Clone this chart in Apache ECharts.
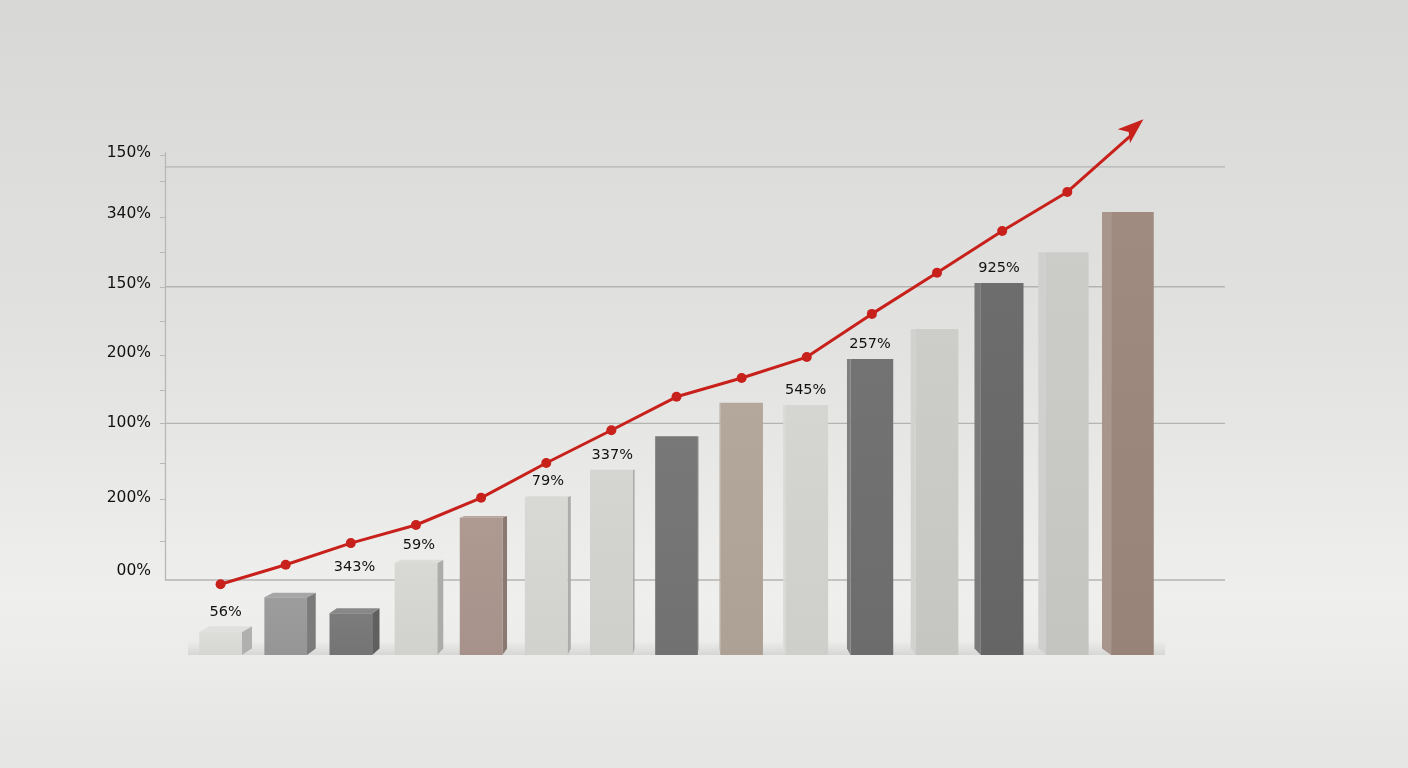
<!DOCTYPE html>
<html>
<head>
<meta charset="utf-8" />
<title>增长趋势</title>
<script type="text/javascript" src="https://cdn.jsdelivr.net/npm/echarts@6.0.0/dist/echarts.min.js"></script>
<style>
  html, body { margin: 0; padding: 0; }
  #main { width: 1408px; height: 768px; }
</style>
</head>
<body>
<div id="main"></div>
<script>
// 数据
var categories = ['1', '2', '3', '4', '5', '6', '7', '8', '9', '10', '11', '12', '13', '14', '15'];
var barValues = [0.33, 0.83, 0.60, 1.32, 1.97, 2.27, 2.66, 3.14, 3.62, 3.59, 4.25, 4.68, 5.34, 5.78, 6.36];
var barLabels = ['56%', '', '343%', '59%', '', '79%', '337%', '', '', '545%', '257%', '', '925%', '', ''];
var lineValues = [-0.19, 0.09, 0.40, 0.66, 1.05, 1.55, 2.02, 2.50, 2.77, 3.07, 3.69, 4.28, 4.88, 5.44, 6.27];
var tickLabels = ['00%', '200%', '100%', '200%', '150%', '340%', '150%'];
var tickValues = [0, 1.05, 2.12, 3.13, 4.12, 5.12, 6.0];
var minorTicks = [-0.13, 0.43, 1.03, 1.54, 2.12, 2.60, 3.10, 3.59, 4.08, 4.58, 5.08, 5.60, 5.97];
var gridLineValues = [-0.129, 2.12, 4.08, 5.80];

// 样式
var barColors = ['#dcdcd9', '#9a9a9a', '#787878', '#d7d7d4', '#ab978e', '#d7d7d4', '#d4d4d1', '#747474',
                 '#b2a59a', '#d4d4d1', '#6f6f6f', '#cbcbc8', '#686868', '#cacac7', '#9c877c'];
var labelGap = { 2: 33 };
var VIEW_X = 700, VIEW_Y = 470, SIDE_K = 0.021, LIFT_K = 0.035;

function shade(hex, amt) {
  var n = parseInt(hex.slice(1), 16);
  var r = (n >> 16) & 255, g = (n >> 8) & 255, b = n & 255;
  var t = amt < 0 ? 0 : 255, p = Math.abs(amt);
  r = Math.round(r + (t - r) * p); g = Math.round(g + (t - g) * p); b = Math.round(b + (t - b) * p);
  return 'rgb(' + r + ',' + g + ',' + b + ')';
}

function renderBar(params, api) {
  var i = params.dataIndex;
  var topPt = api.coord([api.value(0), api.value(1)]);
  var basePt = api.coord([api.value(0), 0]);
  var band = api.size([1, 0])[0];
  var w = band * 0.655;
  var side = (VIEW_X - topPt[0]) * SIDE_K;
  var lift = Math.max(0, (topPt[1] - VIEW_Y) * LIFT_K);
  var baseLift = (basePt[1] - VIEW_Y) * LIFT_K;
  var L = topPt[0] - w / 2;
  var R = L + w, T = topPt[1], B = basePt[1];
  var c = barColors[i];
  var sx = side > 0 ? R : L;
  var kids = [
    // 底部阴影
    { type: 'rect', shape: { x: topPt[0] - band / 2, y: B - 14, width: band, height: 14 },
      style: { fill: new echarts.graphic.LinearGradient(0, 0, 0, 1, [
        { offset: 0, color: 'rgba(0,0,0,0)' }, { offset: 1, color: 'rgba(0,0,0,0.09)' }]) } },
    { type: 'polygon', shape: { points: [[sx, T], [sx + side, T - lift], [sx + side, B - baseLift], [sx, B]] },
      style: { fill: shade(c, side > 0 ? -0.2 : 0.12) } },
    { type: 'polygon', shape: { points: [[L, T], [R, T], [R + side, T - lift], [L + side, T - lift]] },
      style: { fill: shade(c, 0.12) } },
    { type: 'rect', shape: { x: L, y: T, width: w, height: B - T },
      style: { fill: new echarts.graphic.LinearGradient(0, 0, 0, 1, [
        { offset: 0, color: shade(c, 0.03) }, { offset: 1, color: shade(c, -0.03) }]) } }
  ];
  if (barLabels[i]) {
    kids.push({ type: 'text', x: L + w / 2 + side / 2, y: T - lift - (labelGap[i] || 7),
      style: { text: barLabels[i], align: 'center', verticalAlign: 'bottom',
        font: '14.5px "DejaVu Sans"', fill: '#111' } });
  }
  return { type: 'group', children: kids };
}

function renderGridLine(params, api) {
  var p0 = api.coord([0, api.value(0)]);
  var p1 = api.coord([1, api.value(0)]);
  return { type: 'line', shape: { x1: p0[0], y1: p0[1], x2: p1[0], y2: p1[1] },
    style: { stroke: '#b4b4b2', lineWidth: 1.3 } };
}

// 最后一个点画成箭头（箭头尖在符号位置）
var lineData = lineValues.map(function (v, i) {
  if (i === lineValues.length - 1) {
    return { value: v, symbol: 'arrow', symbolSize: [14, 26], symbolRotate: -49, symbolOffset: [11, -15] };
  }
  return v;
});

var chart = echarts.init(document.getElementById('main'));
chart.setOption({
  backgroundColor: {
    type: 'linear', x: 0, y: 0, x2: 0, y2: 1,
    colorStops: [
      { offset: 0, color: '#d8d8d6' },
      { offset: 0.45, color: '#e2e2e1' },
      { offset: 0.78, color: '#efefee' },
      { offset: 1, color: '#e5e5e4' }
    ]
  },
  animation: false,
  grid: [
    { left: 188, right: 243, top: 100, bottom: 113 },
    { left: 165, right: 183, top: 153, bottom: 188 }
  ],
  xAxis: [
    { gridIndex: 0, type: 'category', data: categories, show: false },
    { gridIndex: 1, type: 'value', min: 0, max: 1, show: false }
  ],
  yAxis: [
    { gridIndex: 0, type: 'value', min: -1.206, max: 6.76, show: false },
    { gridIndex: 0, type: 'value', min: 0, max: 7.966, show: false },
    {
      gridIndex: 1, type: 'value', min: -0.129, max: 6,
      axisLine: { show: true, lineStyle: { color: '#b8b8b6', width: 1.3 } },
      axisTick: { show: true, length: 5, inside: false, customValues: minorTicks,
        lineStyle: { color: '#b8b8b6' } },
      axisLabel: {
        customValues: tickValues, margin: 14,
        formatter: function (v) {
          var k = 0;
          for (var j = 1; j < tickValues.length; j++) {
            if (Math.abs(tickValues[j] - v) < Math.abs(tickValues[k] - v)) k = j;
          }
          return tickLabels[k];
        },
        fontFamily: 'DejaVu Sans', fontSize: 15.5, color: '#111'
      },
      splitLine: { show: false }
    }
  ],
  series: [
    {
      type: 'custom', xAxisIndex: 1, yAxisIndex: 2, z: 1,
      data: gridLineValues, renderItem: renderGridLine, encode: { y: 0 }
    },
    {
      type: 'custom', xAxisIndex: 0, yAxisIndex: 1, z: 2,
      data: barValues.map(function (v, i) { return [i, v]; }),
      encode: { x: 0, y: 1 }, renderItem: renderBar
    },
    {
      type: 'line', xAxisIndex: 0, yAxisIndex: 0, z: 5,
      data: lineData, symbol: 'circle', symbolSize: 10,
      lineStyle: { color: '#c8211c', width: 3 },
      itemStyle: { color: '#c8211c' }
    }
  ]
});
</script>
</body>
</html>
